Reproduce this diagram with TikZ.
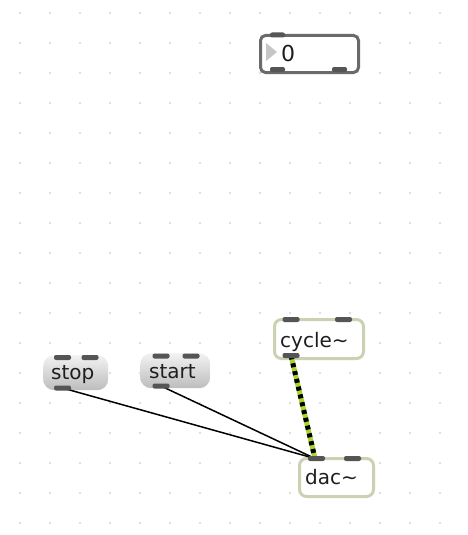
\documentclass[tikz,border=0pt]{standalone}
\usepackage{fontspec}
\setmainfont{DejaVu Sans}
\definecolor{boxgray}{HTML}{6A6A6A}
\definecolor{sage}{HTML}{C9D3B1}
\definecolor{portgray}{HTML}{555555}
\definecolor{textgray}{HTML}{1E1E1E}
\definecolor{dotgray}{HTML}{D4D4D4}
\definecolor{cordgreen}{HTML}{A6D62E}
\begin{document}
\begin{tikzpicture}[x=1pt,y=-1pt,
 msgbox/.style={draw=boxgray, line width=3pt, fill=white, rounded corners=5pt, inner sep=0, anchor=north west},
 sigbox/.style={draw=sage, line width=3pt, fill=white, rounded corners=7pt, inner sep=0, anchor=north west},
 btn/.style={rounded corners=11pt, top color=gray!10, bottom color=gray!52, draw=none, inner sep=0, anchor=north west},
 port/.style={fill=portgray, rounded corners=2pt, inner sep=0, minimum width=17pt, minimum height=5pt},
 lbl/.style={anchor=base west, inner sep=0, font=\fontsize{20}{24}\selectfont, text=textgray},
 patch/.style={line width=1.5pt, black},
 sigpatch/.style={line width=5pt, cordgreen},
 sigdash/.style={line width=5pt, black, dash pattern=on 4pt off 4pt},
 griddot/.style={fill=dotgray, draw=none}]
\useasboundingbox (0,0) rectangle (468,535);
\fill[white] (0,0) rectangle (468,535);
% grid dots
\foreach \i in {0,...,15}{
  \foreach \j in {0,...,17}{
    \fill[griddot] ({20+30*\i},{13+30*\j}) circle (1.1pt);
  }
}
% number box
\node[msgbox, minimum width=98pt, minimum height=37pt] (num) at (259,34) {};
\fill[gray!45] (266,43) -- (266,61) -- (277,52) -- cycle;
\node[lbl, font=\fontsize{22}{26}\selectfont] (numtxt) at (281,62) {0};
% cycle~
\node[sigbox, minimum width=89pt, minimum height=39pt] (cyc) at (273,318) {};
\node[lbl] (cyctxt) at (280,347) {cycle\char`~};
% stop / start
\node[btn, minimum width=65pt, minimum height=35pt] (stop) at (43,355) {};
\node[lbl] (stoptxt) at (51,379) {stop};
\node[btn, minimum width=70pt, minimum height=35pt] (start) at (140,353) {};
\node[lbl] (starttxt) at (149,378) {start};
% dac~
\node[sigbox, minimum width=74pt, minimum height=38pt] (dac) at (298,457) {};
\node[lbl] (dactxt) at (305,484) {dac\char`~};
% port positions
\coordinate (cycoutc) at (291,355.5);
\coordinate (stopoutc) at (62.5,388);
\coordinate (startoutc) at (161,386);
\coordinate (dacinc) at (315,458.5);
% cords
\draw[patch] (stopoutc) -- (dacinc);
\draw[patch] (startoutc) -- (dacinc);
\draw[sigpatch] (cycoutc) -- (dacinc);
\draw[sigdash] (cycoutc) -- (dacinc);
% ports
\node[port, minimum width=15pt] (numin) at (277.5,35) {};
\node[port, minimum width=15pt] (numout1) at (277.5,69.5) {};
\node[port, minimum width=15pt] (numout2) at (339.5,69.5) {};
\node[port] (cycin1) at (291,319.5) {};
\node[port] (cycin2) at (343.5,319.5) {};
\node[port] (cycout) at (cycoutc) {};
\node[port] (stopin1) at (62.5,357.5) {};
\node[port] (stopin2) at (90,357.5) {};
\node[port] (stopout) at (stopoutc) {};
\node[port] (startin1) at (161,356) {};
\node[port] (startin2) at (191,356) {};
\node[port] (startout) at (startoutc) {};
\node[port] (dacin1) at (316.5,458.5) {};
\node[port] (dacin2) at (352.5,458.5) {};
\end{tikzpicture}
\end{document}
